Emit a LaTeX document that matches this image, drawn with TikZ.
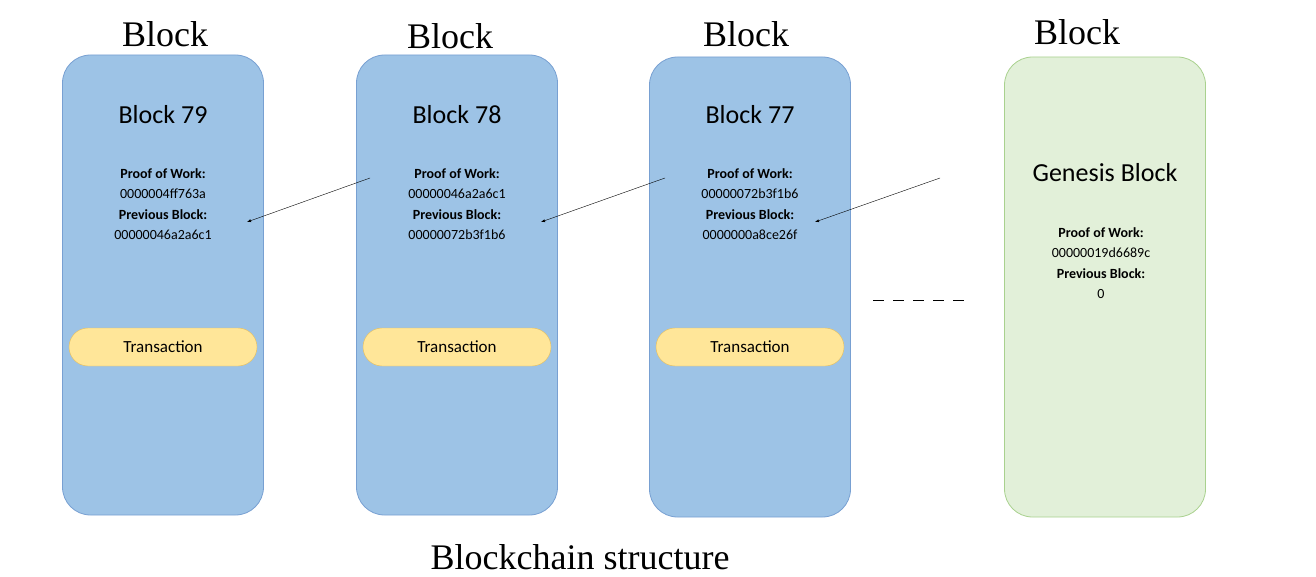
\documentclass[tikz,border=0pt]{standalone}
\usepackage{fontspec}
\setmainfont{Liberation Serif}
\newfontfamily\blkfont{Carlito}
\begin{document}
\begin{tikzpicture}[x=1pt,y=-1pt,
    block/.style={rectangle,rounded corners=28pt,draw={rgb,255:red,120;green,160;blue,210},fill={rgb,255:red,157;green,195;blue,230},thick,minimum width=201pt,minimum height=460pt},
    genesis/.style={block,draw={rgb,255:red,169;green,209;blue,142},fill={rgb,255:red,226;green,240;blue,217}},
    tx/.style={rectangle,rounded corners=19pt,draw={rgb,255:red,230;green,190;blue,90},fill={rgb,255:red,255;green,230;blue,153},minimum width=188pt,minimum height=38pt,font=\blkfont\fontsize{17}{20}\selectfont},
    blkhead/.style={font=\fontsize{36}{40}\selectfont},
    blkname/.style={font=\blkfont\fontsize{26}{30}\selectfont},
    blkinfo/.style={align=center,font=\blkfont\fontsize{14}{20.5}\selectfont},
    arrow/.style={-latex,thin}
]
    \useasboundingbox (0,0) rectangle (1316,577);
    % Blocks
    \node[block] (b79) at (163,285) {};
    \node[block] (b78) at (457,285) {};
    \node[block] (b77) at (750,287) {};
    \node[genesis] (gen) at (1105,287) {};

    % Headings
    \node[blkhead] (h79) at (165,34) {Block};
    \node[blkhead] (h78) at (450,36) {Block};
    \node[blkhead] (h77) at (746,34) {Block};
    \node[blkhead] (hgen) at (1077,32) {Block};

    % Contents
    \node[blkname] (n79) at (163,115) {Block 79};
    \node[blkinfo] (i79) at (163,204) {\textbf{Proof of Work:}\\0000004ff763a\\\textbf{Previous Block:}\\00000046a2a6c1};
    \node[blkname] (n78) at (457,115) {Block 78};
    \node[blkinfo] (i78) at (457,204) {\textbf{Proof of Work:}\\00000046a2a6c1\\\textbf{Previous Block:}\\00000072b3f1b6};
    \node[blkname] (n77) at (750,115) {Block 77};
    \node[blkinfo] (i77) at (750,204) {\textbf{Proof of Work:}\\00000072b3f1b6\\\textbf{Previous Block:}\\0000000a8ce26f};
    \node[blkname] (ngen) at (1105,173) {Genesis Block};
    \node[blkinfo] (igen) at (1101,263) {\textbf{Proof of Work:}\\00000019d6689c\\\textbf{Previous Block:}\\0};

    % Transactions
    \node[tx] (t79) at (163,347) {Transaction};
    \node[tx] (t78) at (457,347) {Transaction};
    \node[tx] (t77) at (750,347) {Transaction};

    % Links
    \coordinate (s78) at (370,178);
    \coordinate (s77) at (665,178);
    \coordinate (sgen) at (940,178);
    \coordinate (e79) at (247,222);
    \coordinate (e78) at (541,222);
    \coordinate (e77) at (815,222);
    \draw[arrow] (s78) -- (e79);
    \draw[arrow] (s77) -- (e78);
    \draw[arrow] (sgen) -- (e77);
    \coordinate (d1) at (873,300);
    \coordinate (d2) at (968,300);
    \draw[thick,dash pattern=on 11pt off 9pt] (d1) -- (d2);

    % Caption
    \node[blkhead] (cap) at (580,557) {Blockchain structure};
\end{tikzpicture}
\end{document}
